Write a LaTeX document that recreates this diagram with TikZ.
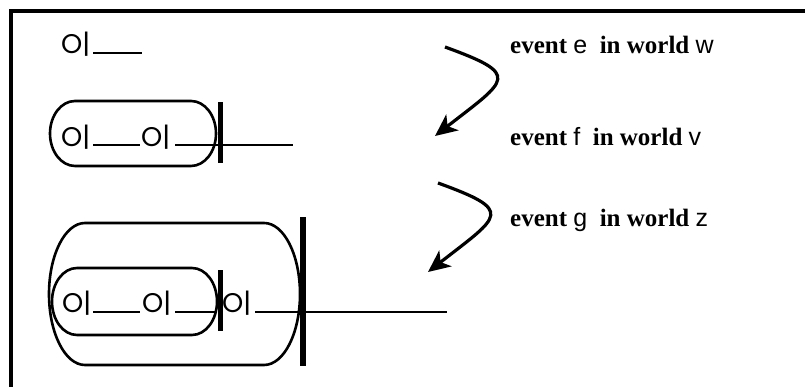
\documentclass[tikz,border=0pt]{standalone}
\usepackage{fontspec}
\setmainfont{Liberation Serif}
\newfontfamily\geo{Poppins}
\newfontfamily\arialf{Liberation Sans}
\usetikzlibrary{arrows.meta}
\newcommand\pillshape[5]{%
  \draw[pillline] ({#1+#5},#2) -- ({#3-#5},#2)
    arc[start angle=90,end angle=-90,x radius=#5,y radius={(#2-#4)/2}]
    -- ({#1+#5},#4)
    arc[start angle=270,end angle=90,x radius=#5,y radius={(#2-#4)/2}] -- cycle;}
\begin{document}
\begin{tikzpicture}[x=1pt,y=1pt,
  frame/.style={line width=4pt},
  pillline/.style={line width=2.6pt},
  stopbar/.style={line width=5pt},
  tl/.style={line width=1.1pt},
  sym/.style={font=\geo\fontsize{27}{27}\selectfont, inner sep=0pt, anchor=base west},
  evt/.style={font=\bfseries\fontsize{25}{25}\selectfont, inner sep=0pt, anchor=base west},
  bendarrow/.style={line width=3.2pt, -{Stealth[length=22pt,width=20pt,inset=6pt]}}
]
\useasboundingbox (0,0) rectangle (805,387);
\draw[frame] (11,0) -- (11,376) -- (805,376);

% row 1
\node[sym] (s1) at (61,333) {O|};
\draw[tl] (93,334) -- (142,334);

% row 2
\pillshape{50}{286}{216}{221}{25}
\node[sym] (s2a) at (61,240) {O|};
\node[sym] (s2b) at (141,240) {O|};
\draw[tl] (93,242) -- (140,242);
\draw[tl] (175,242) -- (293,242);
\draw[stopbar] (220,224) -- (220,285);

% row 3
\pillshape{49}{164}{300}{22}{36}
\pillshape{52}{119}{217}{52}{25}
\node[sym] (s3a) at (62,74) {O|};
\node[sym] (s3b) at (142,74) {O|};
\node[sym] (s3c) at (222,74) {O|};
\draw[tl] (93,75) -- (140,75);
\draw[tl] (175,75) -- (215,75);
\draw[tl] (255,75) -- (447,75);
\draw[stopbar] (220,56) -- (220,117);
\draw[line width=6pt] (303,21) -- (303,170);

% event labels
\node[evt] (e1) at (510,333) {event {\arialf\mdseries e}\ \ in world {\arialf\mdseries w}};
\node[evt] (e2) at (510,241) {event {\arialf\mdseries f}\ \ in world {\arialf\mdseries v}};
\node[evt] (e3) at (510,160) {event {\arialf\mdseries g}\ \ in world {\arialf\mdseries z}};

% arrows
\coordinate (a1s) at (445,340);
\coordinate (a1e) at (435,251);
\coordinate (a2s) at (438,204);
\coordinate (a2e) at (428,115);
\draw[bendarrow] (a1s) .. controls (522,312) and (508,308) .. (a1e);
\draw[bendarrow] (a2s) .. controls (515,176) and (501,172) .. (a2e);
\end{tikzpicture}
\end{document}
